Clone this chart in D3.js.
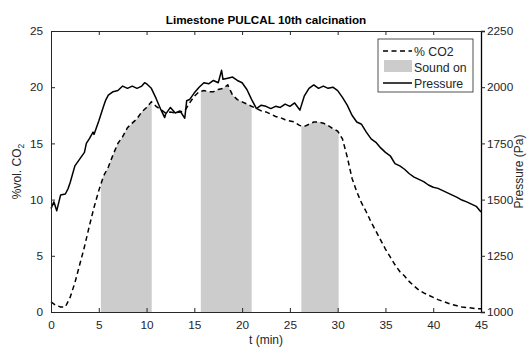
<!DOCTYPE html>
<head>
  <meta charset="utf-8">
  <script src="https://d3js.org/d3.v7.min.js"></script>
  <style>
    body { margin:0; background:white; }
    text { font-family: 'Liberation Sans', Arial, sans-serif; fill: #262626; }
    .title { font-size: 11.7px; font-weight: bold; fill: black; }
    .lab { font-size: 12px; }
    .leg { font-size: 12.3px; }
  </style>
</head>
<body>
<script>
// time in minutes, CO2 in % vol
const co2T = [0,0.5,1,1.5,2,2.5,3,3.5,4,4.5,5,5.5,6,6.5,7,7.5,8,8.5,9,9.5,10,10.5,11,11.5,12,12.5,13,13.5,14,14.5,15,15.5,
  16,16.5,17,17.5,18,18.5,19,19.5,20,20.5,21,21.5,22,22.5,23,23.5,24,24.5,25,25.5,26,26.5,27,27.5,28,28.5,29,29.5,30,30.5,
  31,31.5,32,32.5,33,33.5,34,34.5,35,35.5,36,36.5,37,37.5,38,38.5,39,39.5,40,40.5,41,41.5,42,42.5,43,43.5,44,44.5,45];
const co2V = [0.9,0.6,0.45,0.45,1.3,2.6,4.2,5.8,7.6,9.3,10.8,12.1,12.9,14.0,15.0,15.6,16.4,16.8,17.2,17.8,18.2,18.7,18.3,18.0,17.7,17.8,17.7,17.8,17.9,18.6,19.2,19.6,
  19.7,19.6,19.6,19.8,19.9,20.2,19.3,18.9,18.7,18.5,18.3,18.1,17.9,17.8,17.6,17.4,17.3,17.1,17.0,16.9,16.6,16.5,16.7,16.9,16.9,16.8,16.6,16.3,16.1,15.4,
  13.8,11.9,10.7,9.7,8.9,8.0,7.2,6.4,5.6,4.9,4.2,3.6,3.2,2.7,2.3,1.95,1.7,1.5,1.3,1.1,0.95,0.8,0.65,0.55,0.45,0.4,0.35,0.3,0.3];

// pressure in Pa
const presT = [0,0.3,0.6,1,1.5,1.8,2,2.5,3,3.5,3.7,4,4.4,4.5,5,5.5,5.7,6,6.5,7,7.5,8,8.5,9,9.5,9.8,10,10.5,11,11.5,11.9,12,12.5,13,13.5,14,14.2,14.5,15,15.5,
  16,16.5,17,17.5,17.85,18,18.5,19,19.5,20,20.5,21,21.5,22,22.5,23,23.5,24,24.5,25,25.5,26.05,26.5,27,27.5,28,28.5,29,29.5,30,30.5,
  31,31.5,32,32.5,33,33.5,34,34.5,35,35.5,36,36.5,37,37.5,38,38.5,39,39.5,40,40.5,41,41.5,42,42.5,43,43.5,44,44.5,45];
const presV = [1460,1490,1450,1520,1525,1550,1575,1650,1680,1710,1750,1770,1800,1790,1850,1915,1940,1965,1980,1985,2005,1995,2005,1995,2005,2020,2015,1995,1950,1900,1865,1880,1910,1885,1895,1862,1940,1945,1975,2000,
  2020,2015,2030,2020,2075,2035,2040,2045,2030,2020,1990,1945,1905,1920,1915,1905,1915,1910,1925,1915,1930,1898,1960,1995,2010,1995,2005,1995,2000,1985,1955,
  1920,1875,1845,1835,1800,1770,1755,1730,1710,1695,1660,1650,1635,1615,1600,1590,1580,1565,1555,1550,1540,1530,1520,1510,1498,1490,1480,1470,1445];

// sound on intervals (min)
const soundOn = [[5.22, 10.54], [15.68, 21.0], [26.2, 30.1]];

const xTicks = d3.range(0, 46, 5);
const yTicks = d3.range(0, 26, 5);
const pTicks = d3.range(1000, 2251, 250);

const W = 532, H = 347;
const m = {l: 51, r: 51, t: 31, b: 35};
const x = d3.scaleLinear().domain([0, 45]).range([m.l, W - m.r]);
const y = d3.scaleLinear().domain([0, 25]).range([H - m.b, m.t]);
const yp = d3.scaleLinear().domain([1000, 2250]).range([H - m.b, m.t]);

const svg = d3.select('body').append('svg').attr('width', W).attr('height', H);

const co2 = co2T.map((t, i) => ({t: t, v: co2V[i]}));
const pres = presT.map((t, i) => ({t: t, v: presV[i]}));
const co2At = d3.scaleLinear().domain(co2T).range(co2V);

// sound on shading under the CO2 curve
const area = d3.area().x(d => x(d.t)).y0(y(0)).y1(d => y(d.v));
soundOn.forEach(([a, b]) => {
  const pts = [{t: a, v: co2At(a)}].concat(co2.filter(d => d.t > a && d.t < b), [{t: b, v: co2At(b)}]);
  svg.append('path').attr('d', area(pts)).attr('fill', '#cccccc').attr('stroke', 'none');
});

const line = d3.line().x(d => x(d.t)).y(d => y(d.v));
svg.append('path').attr('d', line(co2)).attr('fill', 'none').attr('stroke', 'black')
  .attr('stroke-width', 1.5).attr('stroke-dasharray', '5,3.5');

const pline = d3.line().x(d => x(d.t)).y(d => yp(d.v));
svg.append('path').attr('d', pline(pres)).attr('fill', 'none').attr('stroke', 'black')
  .attr('stroke-width', 1.5).attr('stroke-linejoin', 'round');

// axes
const gx = svg.append('g').attr('transform', `translate(0,${H - m.b})`)
  .call(d3.axisBottom(x).tickValues(xTicks).tickSize(-4).tickPadding(9));
const gxt = svg.append('g').attr('transform', `translate(0,${m.t})`)
  .call(d3.axisTop(x).tickValues(xTicks).tickSize(-4).tickFormat(''));
const gy = svg.append('g').attr('transform', `translate(${m.l},0)`)
  .call(d3.axisLeft(y).tickValues(yTicks).tickSize(-4).tickPadding(8));
const gyp = svg.append('g').attr('transform', `translate(${W - m.r},0)`)
  .call(d3.axisRight(yp).tickValues(pTicks).tickSize(4).tickPadding(2).tickFormat(d3.format('d')));
[gx, gxt, gy, gyp].forEach(g => {
  g.select('.domain').attr('stroke', '#262626').attr('stroke-width', 1);
  g.selectAll('.tick line').attr('stroke', '#262626');
  g.selectAll('.tick text').attr('fill', '#262626').style('font-family', "'Liberation Sans', Arial, sans-serif").style('font-size', '11.8px');
});
gyp.select('.domain').attr('stroke', 'black').attr('stroke-width', 1.3);

// titles
svg.append('text').attr('class', 'title').attr('x', (m.l + W - m.r) / 2).attr('y', 24)
  .attr('text-anchor', 'middle').text('Limestone PULCAL 10th calcination');
svg.append('text').attr('class', 'lab').attr('x', (m.l + W - m.r) / 2).attr('y', 344)
  .attr('text-anchor', 'middle').text('t (min)');
const yl = svg.append('text').attr('class', 'lab').attr('text-anchor', 'middle')
  .attr('transform', `translate(21,${(m.t + H - m.b) / 2}) rotate(-90)`);
yl.append('tspan').text('%vol. CO');
yl.append('tspan').attr('font-size', '8.5px').attr('dy', 3).text('2');
svg.append('text').attr('class', 'lab').attr('text-anchor', 'middle')
  .attr('transform', `translate(523,${(m.t + H - m.b) / 2}) rotate(-90)`).text('Pressure (Pa)');

// legend
const lg = svg.append('g').attr('transform', 'translate(378,39)');
lg.append('rect').attr('width', 95).attr('height', 53).attr('fill', 'white')
  .attr('stroke', '#262626').attr('stroke-width', 0.8);
lg.append('line').attr('x1', 5).attr('x2', 34).attr('y1', 12).attr('y2', 12)
  .attr('stroke', 'black').attr('stroke-width', 1.5).attr('stroke-dasharray', '5,3.5');
lg.append('rect').attr('x', 6).attr('y', 21).attr('width', 28).attr('height', 12).attr('fill', '#cccccc');
lg.append('line').attr('x1', 5).attr('x2', 34).attr('y1', 44).attr('y2', 44)
  .attr('stroke', 'black').attr('stroke-width', 1.5);
['% CO2', 'Sound on', 'Pressure'].forEach((s, i) => {
  lg.append('text').attr('class', 'leg').attr('x', 36).attr('y', 16.5 + i * 16).text(s);
});
</script>
</body>
